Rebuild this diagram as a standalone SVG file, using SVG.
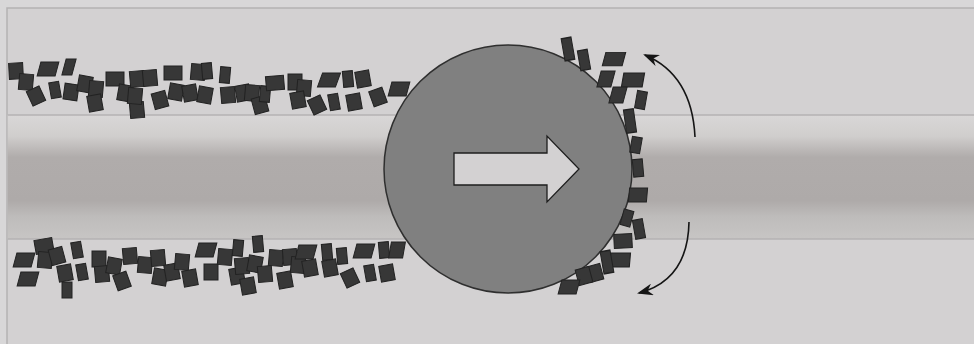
<svg xmlns="http://www.w3.org/2000/svg" xmlns:xlink="http://www.w3.org/1999/xlink" width="974" height="344" viewBox="0 0 974 344">
  <defs>
    <style>
      .grain { fill: #373737; stroke: #222; stroke-width: 1; }
      .edge { stroke: #b4b2b3; stroke-width: 1.5; }
      .curve { fill: none; stroke: #151515; stroke-width: 1.6; marker-end: url(#head); }
    </style>
    <linearGradient id="pipe" x1="0" y1="0" x2="0" y2="1">
      <stop offset="0" stop-color="#d9d7d7"/>
      <stop offset="0.17" stop-color="#d0cecd"/>
      <stop offset="0.34" stop-color="#b0acab"/>
      <stop offset="0.69" stop-color="#aeaaa9"/>
      <stop offset="0.82" stop-color="#bebcbb"/>
      <stop offset="1" stop-color="#c7c5c4"/>
    </linearGradient>
    <marker id="head" viewBox="0 0 16 12" refX="14" refY="6" markerWidth="16" markerHeight="12" markerUnits="userSpaceOnUse" orient="auto">
      <path d="M0,0 L16,6 L0,12 L5,6 Z" fill="#151515"/>
    </marker>
    <!-- grain shapes: regular, narrow, wide -->
    <rect id="g" class="grain" x="-7" y="-8" width="14" height="16"/>
    <rect id="n" class="grain" x="-5" y="-8" width="10" height="16"/>
    <rect id="w" class="grain" x="-9" y="-7" width="18" height="14"/>
  </defs>

  <!-- backdrop and frame -->
  <rect width="974" height="344" fill="#d8d7d8"/>
  <rect x="7" y="8" width="975" height="345" fill="#d3d1d2" class="edge"/>

  <!-- the pipe running across -->
  <g id="pipe-band">
    <rect x="7.75" y="115" width="967" height="124" fill="url(#pipe)"/>
    <line x1="7.75" y1="115" x2="974" y2="115" class="edge"/>
    <line x1="7.75" y1="239" x2="974" y2="239" class="edge"/>
  </g>

  <!-- loose material along the upper wall -->
  <g id="grains-top">
    <use xlink:href="#g" transform="translate(16,71) rotate(-3)"/>
    <use xlink:href="#g" transform="translate(26,82) rotate(5)"/>
    <use xlink:href="#w" transform="translate(48,69) skewX(-15)"/>
    <use xlink:href="#n" transform="translate(69,67) skewX(-15)"/>
    <use xlink:href="#g" transform="translate(36,96) rotate(-25)"/>
    <use xlink:href="#n" transform="translate(55,90) rotate(-10)"/>
    <use xlink:href="#g" transform="translate(71,92) rotate(8)"/>
    <use xlink:href="#g" transform="translate(85,84) rotate(10)"/>
    <use xlink:href="#g" transform="translate(96,89) rotate(5)"/>
    <use xlink:href="#g" transform="translate(95,103) rotate(-10)"/>
    <use xlink:href="#w" transform="translate(115,79)"/>
    <use xlink:href="#g" transform="translate(125,93) rotate(10)"/>
    <use xlink:href="#g" transform="translate(137,110) rotate(-5)"/>
    <use xlink:href="#g" transform="translate(137,79) rotate(-5)"/>
    <use xlink:href="#g" transform="translate(135,96) rotate(5)"/>
    <use xlink:href="#g" transform="translate(150,78) rotate(-5)"/>
    <use xlink:href="#g" transform="translate(160,100) rotate(-15)"/>
    <use xlink:href="#w" transform="translate(173,73)"/>
    <use xlink:href="#g" transform="translate(176,92) rotate(10)"/>
    <use xlink:href="#g" transform="translate(190,93) rotate(-10)"/>
    <use xlink:href="#g" transform="translate(198,72) rotate(5)"/>
    <use xlink:href="#n" transform="translate(207,71) rotate(-5)"/>
    <use xlink:href="#g" transform="translate(205,95) rotate(10)"/>
    <use xlink:href="#n" transform="translate(225,75) rotate(5)"/>
    <use xlink:href="#g" transform="translate(228,95) rotate(-5)"/>
    <use xlink:href="#g" transform="translate(243,93) rotate(-10)"/>
    <use xlink:href="#g" transform="translate(252,93) rotate(5)"/>
    <use xlink:href="#g" transform="translate(260,105) rotate(-15)"/>
    <use xlink:href="#n" transform="translate(265,94) rotate(5)"/>
    <use xlink:href="#w" transform="translate(275,83) rotate(-5)"/>
    <use xlink:href="#g" transform="translate(295,82)"/>
    <use xlink:href="#g" transform="translate(304,88) rotate(5)"/>
    <use xlink:href="#g" transform="translate(298,100) rotate(-10)"/>
    <use xlink:href="#g" transform="translate(317,105) rotate(-25)"/>
    <use xlink:href="#w" transform="translate(329,80) skewX(-20)"/>
    <use xlink:href="#n" transform="translate(334,102) rotate(-10)"/>
    <use xlink:href="#n" transform="translate(348,79) rotate(-5)"/>
    <use xlink:href="#g" transform="translate(354,102) rotate(-10)"/>
    <use xlink:href="#g" transform="translate(363,79) rotate(-10)"/>
    <use xlink:href="#g" transform="translate(378,97) rotate(-20)"/>
    <use xlink:href="#w" transform="translate(399,89) skewX(-15)"/>
  </g>

  <!-- loose material along the lower wall -->
  <g id="grains-bottom">
    <use xlink:href="#w" transform="translate(24,260) skewX(-15)"/>
    <use xlink:href="#w" transform="translate(28,279) skewX(-15)"/>
    <use xlink:href="#w" transform="translate(44,246) rotate(-10)"/>
    <use xlink:href="#g" transform="translate(45,260) rotate(5)"/>
    <use xlink:href="#g" transform="translate(57,256) rotate(-15)"/>
    <use xlink:href="#g" transform="translate(65,273) rotate(-10)"/>
    <use xlink:href="#n" transform="translate(67,290)"/>
    <use xlink:href="#n" transform="translate(77,250) rotate(-10)"/>
    <use xlink:href="#n" transform="translate(82,272) rotate(-10)"/>
    <use xlink:href="#g" transform="translate(99,259)"/>
    <use xlink:href="#g" transform="translate(102,274) rotate(-5)"/>
    <use xlink:href="#g" transform="translate(114,266) rotate(10)"/>
    <use xlink:href="#g" transform="translate(122,281) rotate(-20)"/>
    <use xlink:href="#g" transform="translate(130,256) rotate(-5)"/>
    <use xlink:href="#g" transform="translate(145,265) rotate(5)"/>
    <use xlink:href="#g" transform="translate(158,258) rotate(-5)"/>
    <use xlink:href="#g" transform="translate(160,277) rotate(10)"/>
    <use xlink:href="#g" transform="translate(172,272) rotate(-10)"/>
    <use xlink:href="#g" transform="translate(182,262) rotate(5)"/>
    <use xlink:href="#g" transform="translate(190,278) rotate(-10)"/>
    <use xlink:href="#w" transform="translate(206,250) skewX(-15)"/>
    <use xlink:href="#g" transform="translate(211,272)"/>
    <use xlink:href="#g" transform="translate(225,257) rotate(5)"/>
    <use xlink:href="#g" transform="translate(237,276) rotate(-10)"/>
    <use xlink:href="#n" transform="translate(238,248) rotate(5)"/>
    <use xlink:href="#g" transform="translate(242,266) rotate(-5)"/>
    <use xlink:href="#g" transform="translate(255,264) rotate(10)"/>
    <use xlink:href="#g" transform="translate(248,286) rotate(-10)"/>
    <use xlink:href="#n" transform="translate(258,244) rotate(-5)"/>
    <use xlink:href="#g" transform="translate(265,274) rotate(-5)"/>
    <use xlink:href="#g" transform="translate(276,258) rotate(5)"/>
    <use xlink:href="#g" transform="translate(285,280) rotate(-10)"/>
    <use xlink:href="#g" transform="translate(290,257) rotate(-5)"/>
    <use xlink:href="#g" transform="translate(298,265) rotate(5)"/>
    <use xlink:href="#w" transform="translate(306,252) skewX(-15)"/>
    <use xlink:href="#g" transform="translate(310,268) rotate(-10)"/>
    <use xlink:href="#n" transform="translate(327,252) rotate(-5)"/>
    <use xlink:href="#g" transform="translate(330,268) rotate(-10)"/>
    <use xlink:href="#n" transform="translate(342,256) rotate(-5)"/>
    <use xlink:href="#g" transform="translate(350,278) rotate(-25)"/>
    <use xlink:href="#w" transform="translate(364,251) skewX(-15)"/>
    <use xlink:href="#n" transform="translate(370,273) rotate(-10)"/>
    <use xlink:href="#n" transform="translate(384,250) rotate(-5)"/>
    <use xlink:href="#g" transform="translate(397,250) skewX(-10)"/>
    <use xlink:href="#g" transform="translate(387,273) rotate(-10)"/>
  </g>

  <!-- the rotating cutter head with its direction of travel -->
  <g id="cutter">
    <circle cx="508" cy="169" r="124" fill="#808080" stroke="#2f2f2f" stroke-width="1.5"/>
    <polygon points="454,153 547,153 547,136 579,169 547,202 547,185 454,185" fill="#d3d1d2" stroke="#1e1e1e" stroke-width="1.3" stroke-linejoin="miter"/>
  </g>

  <!-- material pushed ahead of the cutter face -->
  <g id="grains-front">
    <use xlink:href="#n" transform="translate(568,49) rotate(-10) scale(1,1.4)"/>
    <use xlink:href="#n" transform="translate(584,60) rotate(-10) scale(1,1.25)"/>
    <use xlink:href="#w" transform="translate(614,59) skewX(-15) scale(1.1,0.95)"/>
    <use xlink:href="#g" transform="translate(606,79) skewX(-15)"/>
    <use xlink:href="#w" transform="translate(633,80) skewX(-10) scale(1.15,1)"/>
    <use xlink:href="#g" transform="translate(618,95) skewX(-15)"/>
    <use xlink:href="#n" transform="translate(641,100) rotate(10) scale(1,1.1)"/>
    <use xlink:href="#n" transform="translate(630,121) rotate(-8) scale(1,1.45)"/>
    <use xlink:href="#n" transform="translate(636,145) rotate(10)"/>
    <use xlink:href="#n" transform="translate(638,168) rotate(-5) scale(1,1.1)"/>
    <use xlink:href="#w" transform="translate(638,195) skewX(-5)"/>
    <use xlink:href="#n" transform="translate(627,218) rotate(15)"/>
    <use xlink:href="#n" transform="translate(639,229) rotate(-10) scale(1,1.2)"/>
    <use xlink:href="#w" transform="translate(623,241) rotate(-3)"/>
    <use xlink:href="#w" transform="translate(620,260) skewX(-5) scale(1.1,1)"/>
    <use xlink:href="#n" transform="translate(607,262) rotate(-10) scale(1,1.4)"/>
    <use xlink:href="#g" transform="translate(595,273) rotate(-15)"/>
    <use xlink:href="#g" transform="translate(584,276) rotate(-15)"/>
    <use xlink:href="#w" transform="translate(569,287) skewX(-15)"/>
  </g>

  <!-- rotation indicators -->
  <g id="connectors">
    <path class="curve" d="M695,137 Q692,75 645,55"/>
    <path class="curve" d="M689,222 Q688,280 639,293"/>
  </g>
</svg>
